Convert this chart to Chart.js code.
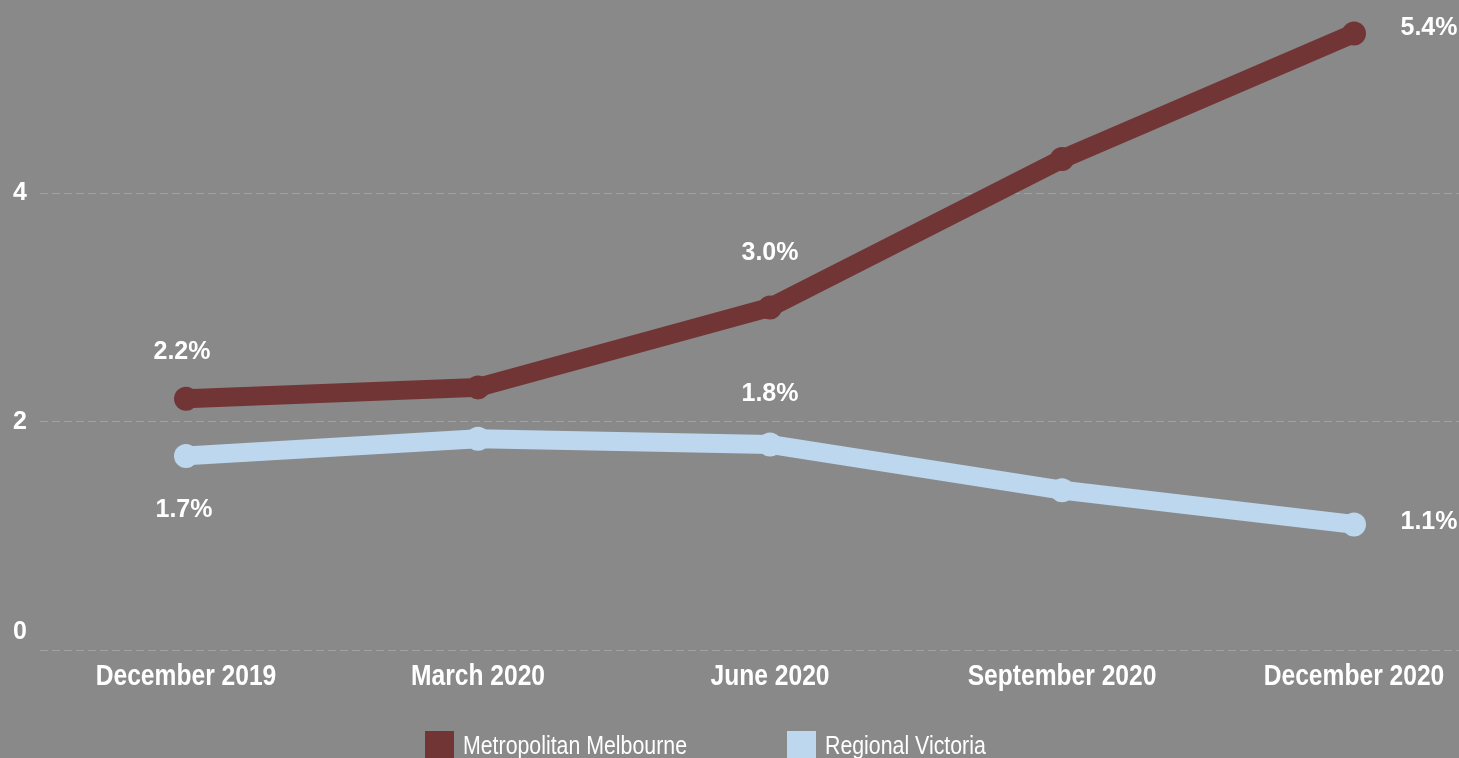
<!DOCTYPE html>
<html>
<head>
<meta charset="utf-8">
<script src="https://cdn.jsdelivr.net/npm/chart.js@4/dist/chart.umd.min.js"></script>
<style>
    html, body { margin: 0; padding: 0; background: #898989; overflow: hidden; }
    #chart { display: block; }
</style>
</head>
<body>
<canvas id="chart" width="1500" height="790"></canvas>
<script>
const labels = ['December 2019', 'March 2020', 'June 2020', 'September 2020', 'December 2020'];
const metroValues = [2.2, 2.3, 3.0, 4.3, 5.4];
const regionalValues = [1.7, 1.85, 1.8, 1.4, 1.1];
const yTicks = [0, 2, 4];

// which points carry a value label, and where it sits
const metroLabelAt = [{ i: 0, dx: -4, dy: -47 }, { i: 2, dx: 0, dy: -54 }, { i: 4, dx: 75, dy: -5 }];
const regionalLabelAt = [{ i: 0, dx: -2, dy: 54 }, { i: 2, dx: 0, dy: -50 }, { i: 4, dx: 75, dy: -2 }];

const fontFamily = "'Liberation Sans', Arial, sans-serif";
const NARROW = 0.82; // squeeze to get an Arial Narrow look

function narrowText(ctx, text, x, y, align) {
    ctx.save();
    ctx.translate(x, y);
    ctx.scale(NARROW, 1);
    ctx.textAlign = align;
    ctx.fillText(text, 0, 0);
    ctx.restore();
}

// axis labels drawn by hand: narrow x labels, and the 0 sits above the baseline
const axisLabels = {
    id: 'axisLabels',
    afterDraw(chart) {
        const ctx = chart.ctx, x = chart.scales.x, y = chart.scales.y, area = chart.chartArea;
        ctx.save();
        ctx.fillStyle = '#ffffff';
        ctx.textBaseline = 'middle';
        ctx.font = 'bold 25px ' + fontFamily;
        ctx.textAlign = 'center';
        for (const t of y.ticks) {
            const py = Math.min(y.getPixelForValue(t.value), area.bottom - 18);
            ctx.fillText(String(t.value), 20, py);
        }
        ctx.font = 'bold 30px ' + fontFamily;
        chart.data.labels.forEach((lab, i) => {
            narrowText(ctx, lab, x.getPixelForValue(i), area.bottom + 27, 'center');
        });
        ctx.restore();
    }
};

const valueLabels = {
    id: 'valueLabels',
    afterDatasetsDraw(chart) {
        const ctx = chart.ctx;
        ctx.save();
        ctx.font = 'bold 25px ' + fontFamily;
        ctx.fillStyle = '#ffffff';
        ctx.textAlign = 'center';
        ctx.textBaseline = 'middle';
        chart.data.datasets.forEach((ds, d) => {
            const pts = chart.getDatasetMeta(d).data;
            for (const l of ds.valueLabels) {
                const p = pts[l.i];
                ctx.fillText(ds.data[l.i].toFixed(1) + '%', p.x + l.dx, p.y + l.dy);
            }
        });
        ctx.restore();
    }
};

const bottomLegend = {
    id: 'bottomLegend',
    afterDraw(chart) {
        const ctx = chart.ctx;
        const itemX = [425, 787];
        ctx.save();
        ctx.font = '26px ' + fontFamily;
        ctx.textBaseline = 'middle';
        chart.data.datasets.forEach((ds, d) => {
            ctx.fillStyle = ds.borderColor;
            ctx.fillRect(itemX[d], 731, 29, 29);
            ctx.fillStyle = '#ffffff';
            narrowText(ctx, ds.label, itemX[d] + 38, 747, 'left');
        });
        ctx.restore();
    }
};

new Chart(document.getElementById('chart'), {
    type: 'line',
    data: {
        labels: labels,
        datasets: [{
            label: 'Metropolitan Melbourne',
            data: metroValues,
            borderColor: '#723536',
            backgroundColor: '#723536',
            borderWidth: 19,
            pointRadius: 12,
            pointBorderWidth: 0,
            tension: 0,
            clip: false,
            valueLabels: metroLabelAt
        }, {
            label: 'Regional Victoria',
            data: regionalValues,
            borderColor: '#bdd7ee',
            backgroundColor: '#bdd7ee',
            borderWidth: 19,
            pointRadius: 12,
            pointBorderWidth: 0,
            tension: 0,
            clip: false,
            valueLabels: regionalLabelAt
        }]
    },
    options: {
        responsive: false,
        animation: false,
        layout: {
            autoPadding: false,
            padding: { left: 40, top: 22, right: 0, bottom: 140 }
        },
        plugins: {
            legend: { display: false },
            tooltip: { enabled: false }
        },
        scales: {
            x: {
                offset: true,
                grid: { display: false, drawTicks: false },
                border: { display: false },
                ticks: { display: false }
            },
            y: {
                min: 0,
                max: 5.5,
                afterBuildTicks: (scale) => {
                    scale.ticks = yTicks.map(v => ({ value: v }));
                },
                grid: { color: '#a2a2a2', lineWidth: 1, drawTicks: false },
                border: { display: false, dash: [8, 4] },
                ticks: { display: false }
            }
        }
    },
    plugins: [axisLabels, valueLabels, bottomLegend]
});
</script>
</body>
</html>
